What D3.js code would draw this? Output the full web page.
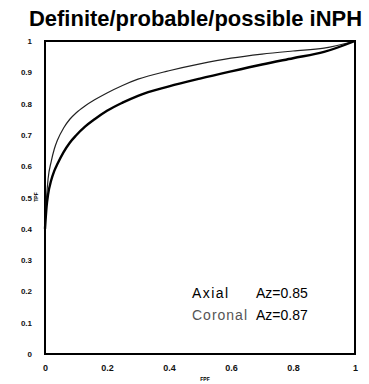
<!DOCTYPE html>
<html><head><meta charset="utf-8">
<script src="https://cdn.jsdelivr.net/npm/d3@7"></script>
<style>body{margin:0;background:#fff}svg{display:block}</style>
</head><body>
<svg id="c" width="369" height="384"></svg>
<script>
const title = "Definite/probable/possible iNPH";
const xTicks = [0, 0.2, 0.4, 0.6, 0.8, 1];
const yTicks = [0, 0.1, 0.2, 0.3, 0.4, 0.5, 0.6, 0.7, 0.8, 0.9, 1];
const fpf = [0, 0.005, 0.01, 0.02, 0.03, 0.04, 0.06, 0.08, 0.1, 0.13, 0.16, 0.2, 0.25, 0.3, 0.4, 0.5, 0.6, 0.7, 0.8, 0.9, 1];
const axialTPF = [0.40, 0.47, 0.51, 0.555, 0.585, 0.607, 0.645, 0.675, 0.698, 0.727, 0.75, 0.777, 0.803, 0.825, 0.855, 0.88, 0.903, 0.925, 0.945, 0.965, 1];
const coronalTPF = [0.40, 0.50, 0.56, 0.615, 0.655, 0.683, 0.722, 0.75, 0.77, 0.793, 0.812, 0.834, 0.858, 0.878, 0.905, 0.927, 0.945, 0.958, 0.968, 0.977, 1];
const legend = [{name:"Axial", az:"Az=0.85"}, {name:"Coronal", az:"Az=0.87"}];

const svg = d3.select("#c");
const x = d3.scaleLinear().domain([0,1]).range([45,355]);
const y = d3.scaleLinear().domain([0,1]).range([354,41]);
const font = "Liberation Sans, Arial, Helvetica, sans-serif";

svg.append("text").attr("x",29).attr("y",26)
  .attr("font-family",font).attr("font-weight","bold").attr("font-size",22)
  .attr("textLength",333).attr("lengthAdjust","spacingAndGlyphs").text(title);

// frame
svg.append("rect").attr("x",x(0)).attr("y",y(1)).attr("width",x(1)-x(0)).attr("height",y(0)-y(1))
  .attr("fill","none").attr("stroke","#000").attr("stroke-width",2);

const xa = svg.append("g").attr("transform",`translate(0,${y(0)})`)
  .call(d3.axisBottom(x).tickValues(xTicks).tickSize(0).tickPadding(11).tickFormat(d3.format("")));
xa.select(".domain").remove();
xa.selectAll("text").attr("font-family",font).attr("font-size",9).attr("font-weight","bold").attr("fill","#111");

const ya = svg.append("g").attr("transform",`translate(${x(0)},0)`)
  .call(d3.axisLeft(y).tickValues(yTicks).tickSize(0).tickPadding(13).tickFormat(d3.format("")));
ya.select(".domain").remove();
ya.selectAll("text").attr("font-family",font).attr("font-size",8).attr("font-weight","bold").attr("fill","#111");

svg.append("text").attr("x",205).attr("y",381).attr("text-anchor","middle")
  .attr("font-family",font).attr("font-size",5).attr("font-weight","bold").text("FPF");
svg.append("text").attr("transform","translate(38,197) rotate(-90)").attr("text-anchor","middle")
  .attr("font-family",font).attr("font-size",5).attr("font-weight","bold").text("TPF");

const line = d3.line().x(d=>x(d[0])).y(d=>y(d[1])).curve(d3.curveMonotoneX);
svg.append("path").datum(fpf.map((v,i)=>[v,coronalTPF[i]]))
  .attr("d",line).attr("fill","none").attr("stroke","#222").attr("stroke-width",1.2);
svg.append("path").datum(fpf.map((v,i)=>[v,axialTPF[i]]))
  .attr("d",line).attr("fill","none").attr("stroke","#000").attr("stroke-width",2.4);

const lg = svg.append("g");
const nameLen = [36, 55];
legend.forEach((d,i)=>{
  lg.append("text").attr("x",192).attr("y",298+i*22).attr("font-family",font).attr("font-size",14)
    .attr("fill", i===0?"#000":"#555").attr("textLength", nameLen[i]).attr("lengthAdjust","spacing").text(d.name);
  lg.append("text").attr("x",256).attr("y",298+i*22).attr("font-family",font).attr("font-size",14)
    .attr("fill","#000").text(d.az);
});
</script>
</body></html>
